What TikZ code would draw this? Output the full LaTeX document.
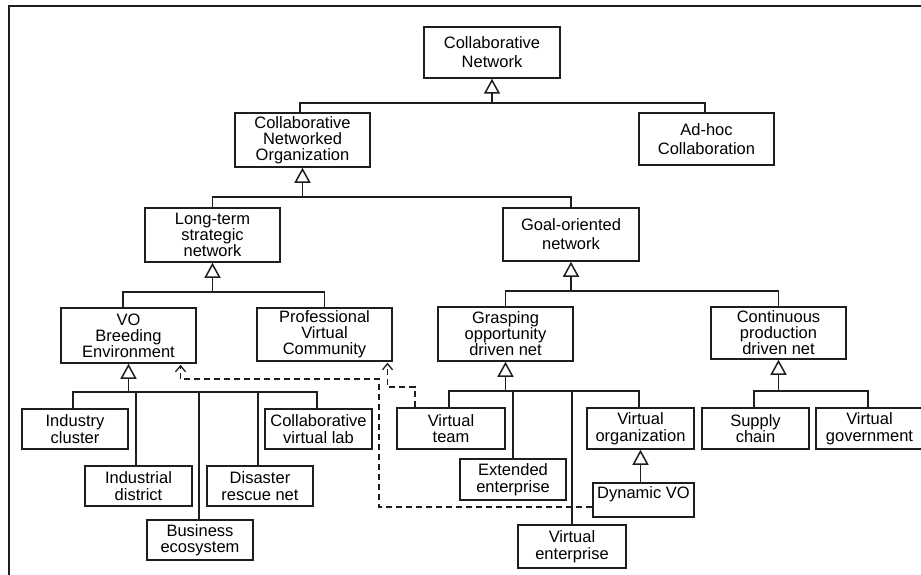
\documentclass[tikz,border=0pt]{standalone}
\usepackage{fontspec}
\setmainfont{Liberation Sans}
\usetikzlibrary{arrows.meta,calc}
\definecolor{lc}{RGB}{30,30,30}
\begin{document}
\begin{tikzpicture}[x=1pt,y=-1pt,
  box/.style={draw=lc, line width=1.5pt, align=center, inner sep=0pt, text=black},
  bigbox/.style={box, minimum width=135pt, minimum height=53pt},
  smallbox/.style={box, minimum width=107pt, minimum height=41pt},
  ftwo/.style={font=\fontsize{16.5}{19}\selectfont},
  fthree/.style={font=\fontsize{16.5}{16}\selectfont},
  fsmall/.style={font=\fontsize{16.5}{16.5}\selectfont},
  conn/.style={draw=lc, line width=1.5pt},
  gen/.style={conn, -{Triangle[open, length=15pt, width=16pt]}},
  dep/.style={draw=lc, line width=1.3pt, dash pattern=on 6pt off 4pt, -{Straight Barb[length=6pt, width=10pt]}, shorten >=1pt},
]
\useasboundingbox (0,0) rectangle (921,575);
\clip (0,0) rectangle (921,575);
\fill[white] (0,0) rectangle (921,575);
% frame
\draw[lc, line width=1.5pt] (9,590) -- (9,6) -- (940,6);

% nodes
\node[bigbox,ftwo,minimum width=136pt,minimum height=51pt] (CN) at (492,52.5) {Collaborative\\Network};
\node[bigbox,fthree,minimum height=54pt] (CNO) at (302.5,140) {Collaborative\\Networked\\Organization};
\node[bigbox,ftwo,minimum height=52pt] (AH) at (706.5,139) {Ad-hoc\\Collaboration};
\node[bigbox,fthree,minimum height=54pt] (LT) at (212.5,235) {Long-term\\strategic\\network};
\node[bigbox,ftwo,minimum width=136pt] (GO) at (571,234.5) {Goal-oriented\\network};
\node[bigbox,fthree,minimum height=55pt] (VOBE) at (128.5,335.5) {VO\\Breeding\\Environment};
\node[bigbox,fthree] (PVC) at (324.5,334.5) {Professional\\Virtual\\Community};
\node[bigbox,fthree,minimum height=54pt] (GR) at (505.5,334) {Grasping\\opportunity\\driven net};
\node[bigbox,fthree,minimum height=52pt] (CP) at (778.5,333) {Continuous\\production\\driven net};

\node[smallbox,fsmall,minimum width=106pt,minimum height=40pt] (IC) at (75,429) {Industry\\cluster};
\node[smallbox,fsmall,minimum height=40pt] (ID) at (138.5,486) {Industrial\\district};
\node[smallbox,fsmall,minimum width=106pt,minimum height=40pt] (BE) at (200,540) {Business\\ecosystem};
\node[smallbox,fsmall,minimum width=106pt,minimum height=40pt] (DR) at (260,486) {Disaster\\rescue net};
\node[smallbox,fsmall,minimum height=40pt] (CVL) at (318.5,429) {Collaborative\\virtual lab};

\node[smallbox,fsmall,minimum width=108pt] (VT) at (451,428.5) {Virtual\\team};
\node[smallbox,fsmall,minimum width=106pt] (EE) at (513,479.5) {Extended\\enterprise};
\node[smallbox,fsmall,minimum width=108pt,minimum height=43pt] (VE) at (572,546.5) {Virtual\\enterprise};
\node[smallbox,fsmall] (VOR) at (640.5,428.5) {Virtual\\organization};
\node[box,fsmall,minimum width=101pt,minimum height=34pt,text height=15pt,text depth=19pt] (DVO) at (643.5,500) {Dynamic VO};
\node[smallbox,fsmall] (SC) at (755.5,428.5) {Supply\\chain};
\node[smallbox,fsmall] (VG) at (869.5,428.5) {Virtual\\government};

% bus points
\coordinate (b1) at (492,103);
\coordinate (b2) at (302.5,197);
\coordinate (b3) at (212.5,292);
\coordinate (b4) at (571,291);
\coordinate (b5) at (128.5,392);
\coordinate (b6) at (505.5,391);
\coordinate (b7) at (778.5,391);

% generalisation connectors
\draw[gen] (b1) -- (CN.south);
\draw[conn] ([xshift=-2.5pt]CNO.north) |- (b1) -| ([xshift=-1.5pt]AH.north);

\draw[gen] (b2) -- (CNO.south);
\draw[conn] (LT.north) |- (b2) -| (GO.north);

\draw[gen] (b3) -- (LT.south);
\draw[conn] ([xshift=-5.5pt]VOBE.north) |- (b3) -| (PVC.north);

\draw[gen] (b4) -- (GO.south);
\draw[conn] (GR.north) |- (b4) -| (CP.north);

\draw[gen] (b5) -- (VOBE.south);
\draw[conn] ([xshift=-2pt]IC.north) |- (b5) -| ([xshift=-1.5pt]CVL.north);
\draw[conn] ([xshift=-2.5pt]ID.north) -- ([xshift=-2.5pt]ID.north |- b5);
\draw[conn] ([xshift=-1pt]BE.north) -- ([xshift=-1pt]BE.north |- b5);
\draw[conn] ([xshift=-2pt]DR.north) -- ([xshift=-2pt]DR.north |- b5);

\draw[gen] (b6) -- (GR.south);
\draw[conn] ([xshift=-2pt]VT.north) |- (b6) -| ([xshift=-1.5pt]VOR.north);
\draw[conn] (EE.north) -- (EE.north |- b6);
\draw[conn] (VE.north) -- (VE.north |- b6);

\draw[gen] (b7) -- (CP.south);
\draw[conn] ([xshift=-1.5pt]SC.north) |- (b7) -| ([xshift=-1.5pt]VG.north);

\draw[gen] (DVO.north -| VOR.south) -- (VOR.south);

% dependency (dashed) connectors
\coordinate (k1) at (379,379);
\coordinate (k2) at (387.5,387);
\draw[dep] ($(DVO.west)+(0,7)$) -| (k1) -| ([xshift=52pt]VOBE.south);
\draw[dep] ([xshift=-36pt]VT.north) |- (k2) -- ([xshift=63pt]PVC.south);
\end{tikzpicture}
\end{document}
